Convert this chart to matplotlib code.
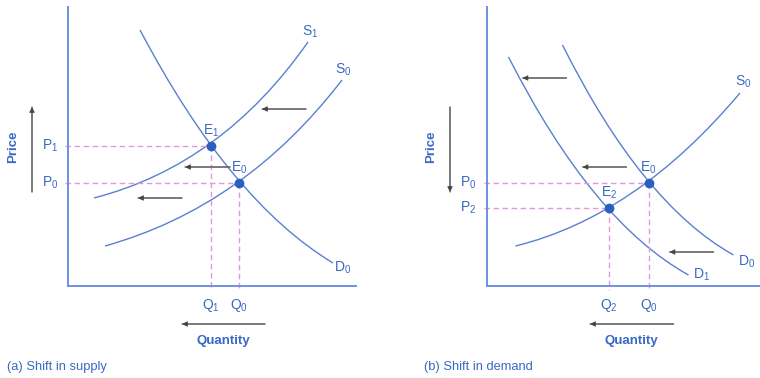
import matplotlib.pyplot as plt
from matplotlib.path import Path
from matplotlib.patches import PathPatch

plt.rcParams['font.family'] = ['Liberation Sans', 'DejaVu Sans']
plt.rcParams['mathtext.default'] = 'regular'

BLUE_TXT = '#3a68c4'
BLUE_CURVE = '#5a7fd2'
BLUE_AXIS = '#6f8fe2'
DOT = '#2a5fc0'
PINK = '#e497da'
ARROW = '#444444'
ARROW_LINE = '#8a8a8a'

# panel (a) shift in supply: curves as quadratic bezier (start, control, end)
a_curves = {
    'D0': [(72, 256), (162, 85), (265, 23)],
    'S1': [(26, 88), (154, 121), (240, 244)],
    'S0': [(37, 40), (176.5, 79), (274, 206)],
}
a_curve_labels = {'S1': ('$S_1$', 242, 254), 'S0': ('$S_0$', 275, 216), 'D0': ('$D_0$', 275, 18)}
a_eq = [('$E_1$', 143, 140), ('$E_0$', 171, 103)]
a_price_labels = ['$P_1$', '$P_0$']
a_qty_labels = ['$Q_1$', '$Q_0$']
a_shift_arrows = [((238, 177), (194, 177)), ((162, 119), (117, 119)), ((114, 88), (70, 88))]
a_qty_arrow = ((197, -38), (114, -38))
a_price_arrow = ((-36, 94), (-36, 179))

# panel (b) shift in demand
b_curves = {
    'D0': [(76, 241), (155.5, 82), (247, 31)],
    'D1': [(22, 229), (106, 64), (202, 11)],
    'S0': [(29, 40), (149.5, 69.5), (253.5, 193)],
}
b_curve_labels = {'S0': ('$S_0$', 257, 204), 'D0': ('$D_0$', 260, 24), 'D1': ('$D_1$', 215, 11)}
b_eq = [('$E_0$', 162, 103), ('$E_2$', 122.5, 78)]
b_price_labels = ['$P_0$', '$P_2$']
b_qty_labels = ['$Q_0$', '$Q_2$']
b_shift_arrows = [((80, 208), (36, 208)), ((140, 119), (96, 119)), ((227, 34), (183, 34))]
b_qty_arrow = ((187, -38), (103.5, -38))
b_price_arrow = ((-36.5, 179), (-36.5, 94))


def draw_panel(ax, curves, curve_labels, eq, plabels, qlabels, shifts, qarrow, parrow,
               xmax, caption):
    ax.set_xlim(0, xmax)
    ax.set_ylim(0, 279)
    ax.set_xticks([])
    ax.set_yticks([])
    for s in ['top', 'right']:
        ax.spines[s].set_visible(False)
    for s in ['left', 'bottom']:
        ax.spines[s].set_color(BLUE_AXIS)
        ax.spines[s].set_linewidth(1.4)
    ax.patch.set_alpha(0)

    for name, pts in curves.items():
        path = Path(pts, [Path.MOVETO, Path.CURVE3, Path.CURVE3])
        ax.add_patch(PathPatch(path, fc='none', ec=BLUE_CURVE, lw=1.0, clip_on=False))
    for name, (txt, x, y) in curve_labels.items():
        ax.text(x, y, txt, color=BLUE_TXT, fontsize=10, ha='center', va='center')

    for (txt, q, p), pl, ql in zip(eq, plabels, qlabels):
        ax.plot([-3, q], [p, p], ls=(0, (4, 2.5)), color=PINK, lw=1.0, clip_on=False)
        ax.plot([q, q], [p, -4], ls=(0, (4, 2.5)), color=PINK, lw=1.0, clip_on=False)
        ax.plot(q, p, 'o', color=DOT, ms=6, zorder=5, clip_on=False)
        ax.text(q, p + 15, txt, color=BLUE_TXT, fontsize=10, ha='center', va='center')
        ax.text(-18, p, pl, color=BLUE_TXT, fontsize=10, ha='center', va='center')
        ax.text(q, -19, ql, color=BLUE_TXT, fontsize=10, ha='center', va='center')

    for start, end in shifts + [qarrow, parrow]:
        ax.annotate('', xy=end, xytext=start, annotation_clip=False,
                    arrowprops=dict(arrowstyle='-', color=ARROW_LINE, lw=1.1,
                                    shrinkA=0, shrinkB=0))
        ax.annotate('', xy=end, xytext=start, annotation_clip=False,
                    arrowprops=dict(arrowstyle='-|>', color=ARROW, lw=0.6,
                                    mutation_scale=8, shrinkA=0, shrinkB=0))

    ax.text(-55, 139, 'Price', rotation=90, color=BLUE_TXT, fontsize=9.5,
            fontweight='bold', ha='center', va='center')
    ax.text(qarrow[1][0] + 41, -55, 'Quantity', color=BLUE_TXT, fontsize=9.5,
            fontweight='bold', ha='center', va='center')
    ax.text(caption[1], -81, caption[0], color=BLUE_TXT, fontsize=9.3,
            ha='left', va='center')


fig = plt.figure(figsize=(7.6, 3.78), dpi=100)
ax_a = fig.add_axes([68 / 760, 92 / 378, 288 / 760, 279 / 378])
ax_b = fig.add_axes([486.5 / 760, 92 / 378, 273.5 / 760, 279 / 378])

draw_panel(ax_a, a_curves, a_curve_labels, a_eq, a_price_labels, a_qty_labels,
           a_shift_arrows, a_qty_arrow, a_price_arrow, 288, ('(a) Shift in supply', -61))
draw_panel(ax_b, b_curves, b_curve_labels, b_eq, b_price_labels, b_qty_labels,
           b_shift_arrows, b_qty_arrow, b_price_arrow, 273.5, ('(b) Shift in demand', -62))

fig.savefig('out.png', dpi=100)
